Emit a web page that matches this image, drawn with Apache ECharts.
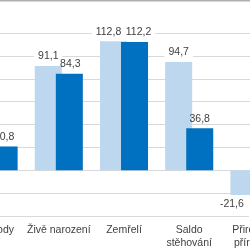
<!DOCTYPE html>
<html><head><meta charset="utf-8">
<script src="https://cdn.jsdelivr.net/npm/echarts@6/dist/echarts.min.js"></script>
<style>
html,body{margin:0;padding:0;width:250px;height:250px;overflow:hidden;background:#fff;}
body{position:relative;}
#c{position:absolute;left:-60px;top:0;width:400px;height:250px;}
</style></head>
<body><div id="c"></div>
<script>
var categories = ['Rozvody', 'Živě narození', 'Zemřelí', 'Saldo\nstěhování', 'Přirozený\npřírůstek'];
var values2023 = [21.2, 91.1, 112.8, 94.7, -21.6];
var values2024 = [20.8, 84.3, 112.2, 36.8, -27.9];
var yTicks = {min: -40, max: 120, interval: 20};

// label nudges and backgrounds (style only)
var lightOffsets = [[0,0],[0,0],[-5,0],[0,0],[-12,0]];
var darkOffsets  = [[0,0],[1,0],[4,0],[0,0],[0,0]];
var lightBg = ['#fff','#fff','#fff','#fff','#fff'];
var darkBg  = ['transparent','transparent','#fff','transparent','#fff'];

function fmt(v){ return String(v).replace('.', ','); }
function items(vals, offs, bgs){
  return vals.map(function(v,i){
    return {value: v, label: {position: v < 0 ? 'bottom' : 'top', offset: offs[i], backgroundColor: bgs[i]}};
  });
}
var labelStyle = {
  show: true, distance: 3, color: '#404040', fontSize: 10.5,
  fontFamily: 'Liberation Sans, Arial, sans-serif',
  padding: [1, 4],
  formatter: function(p){ return fmt(p.value); }
};

var chart = echarts.init(document.getElementById('c'), null, {renderer: 'canvas'});
chart.setOption({
  animation: false,
  backgroundColor: '#fff',
  grid: {left: 21, width: 326, top: 33, height: 184},
  xAxis: {
    type: 'category', data: categories,
    axisLine: {show: false, onZero: false}, axisTick: {show: false},
    axisLabel: {color: '#404040', fontSize: 10.5, fontFamily: 'Liberation Sans, Arial, sans-serif',
                margin: 8, lineHeight: 13, interval: 0}
  },
  yAxis: {
    type: 'value', min: yTicks.min, max: yTicks.max, interval: yTicks.interval,
    axisLabel: {show: false}, axisLine: {show: false}, axisTick: {show: false},
    splitLine: {lineStyle: {color: '#d9d9d9', width: 1}}
  },
  graphic: [{type: 'rect', left: 60, top: 0, shape: {width: 250, height: 1.5}, style: {fill: '#b0b0b0'}, z: 100}],
  series: [
    {type: 'bar', name: '2023', data: items(values2023, lightOffsets, lightBg), barWidth: 27, barGap: '-22%',
     itemStyle: {color: '#bdd7ee'}, label: labelStyle, z: 2},
    {type: 'bar', name: '2024', data: items(values2024, darkOffsets, darkBg), barWidth: 27, barGap: '-22%',
     itemStyle: {color: '#0070c0'}, label: labelStyle, z: 3}
  ]
});
</script>
</body></html>
